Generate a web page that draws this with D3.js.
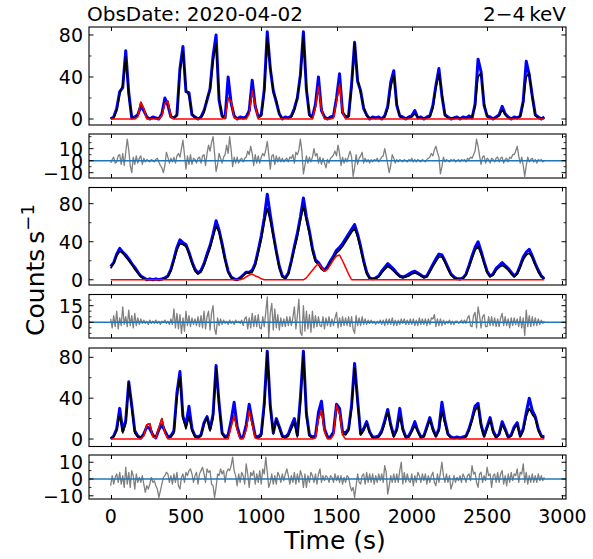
<!DOCTYPE html>
<html><head><meta charset="utf-8">
<script src="https://cdn.jsdelivr.net/npm/d3@7/dist/d3.min.js"></script>
<style>body{margin:0;background:#fff}svg{display:block}</style>
</head><body><svg id="c" width="593" height="559"></svg>
<script>
// ---------- data ----------
// light curves: bins of 20 s from 0 s to 2880 s; residuals: bins of 10 s from 0 s to 2880 s
const LC_STEP = 20;
const RES_STEP = 10;
const xTicks = [0, 500, 1000, 1500, 2000, 2500, 3000];

const p1Data = [
0,2,10,26,30,65,25,1,2,4,
12,8,2,0,2,1,0,5,20,13,
2,1,4,48,69,26,25,4,2,0,
2,8,18,29,60,80,18,3,1,40,
15,3,0,2,1,2,8,37,12,2,
4,28,83,48,27,16,5,0,2,1,
3,10,20,42,83,28,4,2,14,40,
8,2,0,2,3,20,43,6,2,3,
33,73,36,27,10,4,0,2,1,2,
0,3,12,35,46,13,3,2,0,2,
3,8,1,2,0,2,3,13,32,48,
22,4,2,0,1,2,0,2,1,3,
1,14,57,45,13,3,2,0,2,4,
12,5,2,0,2,1,3,17,55,42,
22,4,2,0,2];
const p1Model = [
1,1,8,24,32,60,22,2,1,3,
16,10,1,1,1,1,1,4,15,17,
3,1,3,45,64,28,22,5,1,1,
1,6,20,27,55,72,20,2,2,20,
17,2,1,1,1,1,6,27,14,1,
3,25,78,50,25,18,4,1,1,1,
2,8,22,40,80,30,3,1,12,31,
10,1,1,1,2,18,33,8,1,2,
30,72,38,25,12,3,1,1,1,1,
1,2,10,30,42,15,2,1,1,1,
2,5,2,1,1,1,2,10,30,43,
25,3,1,1,1,1,1,1,1,1,
2,12,40,44,15,2,1,1,1,3,
9,4,1,1,1,1,2,15,40,44,
20,3,1,1,1];
const p1Comp = [
0,0,0,0,0,0,0,0,0,2,
16,10,0,0,0,0,0,3,15,17,
2,0,0,0,0,0,0,0,0,0,
0,0,0,0,0,0,0,0,1,20,
17,1,0,0,0,0,5,27,13,0,
0,0,0,0,0,0,0,0,0,0,
0,0,0,0,0,0,0,0,11,31,
9,0,0,0,1,17,33,7,0,0,
0,0,0,0,0,0,0,0,0,0,
0,0,0,0,0,0,0,0,0,0,
0,0,0,0,0,0,0,0,0,0,
0,0,0,0,0,0,0,0,0,0,
0,0,0,0,0,0,0,0,0,0,
0,0,0,0,0,0,0,0,0,0,
0,0,0,0,0];
const p2Resid = [
-2,1,3,-2,-1,4,5,-3,6,-4,
7,18,9,-4,-10,3,-3,4,-2,2,
4,-3,2,-1,1,0,-1,1,0,-1,
1,2,-1,-4,-6,-10,-4,7,3,-2,
2,-1,3,-2,4,6,3,10,17,5,
-7,4,-3,5,-3,2,1,-2,2,3,
-2,4,5,-4,6,13,8,15,20,6,
-9,-3,6,2,-2,3,5,13,6,20,
9,-5,3,-2,3,-2,1,2,-1,2,
3,8,5,12,6,-4,5,-2,4,-2,
3,6,4,9,16,5,-7,4,5,-3,
4,-1,3,-1,2,-1,1,2,-1,3,
2,5,-2,7,5,9,18,8,-11,-4,
4,-2,3,-1,3,10,4,6,-2,3,
-3,2,-2,-6,1,-2,2,3,5,8,
4,13,6,-4,3,-2,2,-1,4,8,
3,-13,-6,5,-3,2,4,7,-2,2,
-1,1,-2,1,-1,1,0,2,-1,1,
3,4,10,4,-3,-10,-4,5,2,-2,
1,-1,1,0,-1,1,0,-1,1,0,
2,-1,1,-1,1,0,-1,1,0,-1,
1,2,3,6,4,9,12,7,3,-11,
-5,3,-1,1,0,-1,1,0,1,-1,
0,1,-1,1,0,1,-1,2,1,3,
2,5,8,18,12,4,-3,3,4,-2,
2,1,-2,2,1,-1,2,3,-1,2,
3,-2,1,2,-1,3,2,5,5,8,
12,4,-2,3,-4,-13,-4,3,-1,1,
2,-1,1,-2,1,0,1,-1,0];

const p3Data = [
14,18,27,33,29,26,22,17,13,8,
4,2,0,1,0,1,0,1,2,4,
11,22,34,42,39,37,29,19,11,7,
10,17,27,36,48,62,52,38,22,9,
3,1,0,2,5,8,8,10,17,31,
46,65,90,68,48,30,14,4,2,7,
20,35,49,66,86,66,51,33,21,18,
13,10,14,20,25,31,34,38,43,48,
53,58,48,35,20,8,2,1,2,4,
9,13,17,14,11,7,4,3,4,6,
8,9,7,5,3,4,10,16,22,27,
26,20,13,6,3,1,1,2,6,15,
25,34,40,30,19,9,4,6,12,15,
18,15,12,8,4,7,15,24,29,32,
25,17,10,4,1];
const p3Model = [
12,17,25,30,28,24,20,16,11,7,
3,1,0,0,0,0,0,0,1,3,
9,20,31,38,37,35,27,17,9,6,
8,15,24,33,45,56,50,35,20,8,
2,0,0,1,4,7,7,8,15,28,
42,60,75,62,45,28,12,3,1,6,
18,32,45,62,77,62,48,30,19,16,
11,9,12,18,23,28,31,35,40,45,
50,54,45,32,18,6,1,1,1,3,
7,11,14,12,9,6,3,2,3,4,
6,7,6,4,2,3,8,14,19,24,
24,18,11,5,2,1,0,1,5,13,
22,31,35,27,17,7,3,5,10,13,
15,13,10,6,3,6,13,21,26,28,
23,15,8,3,1];
const p3Comp = [
0,0,0,0,0,0,0,0,0,0,
0,0,0,0,0,0,0,0,0,0,
0,0,0,0,0,0,0,0,0,0,
0,0,0,0,0,0,0,0,0,0,
0,0,0,0,1,3,5,6,4,3,
1,0,0,0,0,0,0,0,0,0,
0,0,0,0,0,2,6,10,14,17,
13,9,11,16,21,25,26,20,13,6,
0,0,0,0,0,0,0,0,0,0,
0,0,0,0,0,0,0,0,0,0,
0,0,0,0,0,0,0,0,0,0,
0,0,0,0,0,0,0,0,0,0,
0,0,0,0,0,0,0,0,0,0,
0,0,0,0,0,0,0,0,0,0,
0,0,0,0,0];
const p4Resid = [
3,-5,6,-4,10,-6,4,-3,14,-2,
5,-4,11,-3,6,-5,8,-3,4,-2,
3,-1,2,-1,1,-2,2,-1,1,-1,
2,-1,1,-2,1,0,2,-1,1,-2,
3,-2,12,-5,8,-6,7,-10,4,-8,
10,-3,6,-4,4,-2,3,-3,5,-4,
6,-5,10,-6,5,10,-7,8,15,-6,
-11,4,-3,3,-2,2,-1,1,-2,2,
-1,1,-2,2,0,1,-1,2,-3,3,
5,-6,4,-5,8,-4,6,-4,7,-5,
-6,5,-4,9,23,-14,8,17,-7,12,
-5,7,-7,4,-4,3,-4,5,-3,5,
-3,4,14,-6,6,21,-9,-12,15,-8,
10,-6,7,-9,10,-5,6,-4,5,-3,
-4,5,-6,4,-3,5,-4,3,-3,4,
9,-5,4,-4,5,-3,4,-3,5,-4,
5,-6,-10,6,-3,4,-3,5,-2,3,
-2,2,-1,2,-1,1,-2,1,-1,2,
-2,2,-3,3,-2,3,-2,4,-3,2,
-3,2,-2,3,-1,3,-2,2,-2,3,
-2,3,-3,2,-3,4,-2,3,-2,3,
-3,3,-2,4,3,7,-4,3,-3,3,
-3,2,-2,1,-1,2,-2,1,-2,1,
1,-1,0,2,-1,2,-1,4,6,-3,
-4,6,9,-5,14,6,-5,5,7,-4,
-4,5,-3,5,-3,4,-4,3,-4,4,
8,-3,5,-3,3,-5,4,-3,4,-2,
3,-4,5,-5,4,-12,11,-4,6,-4,
5,-3,4,-3,3,-2,2,-1,1];

const p5Data = [
0,3,10,30,8,18,56,33,8,3,
1,5,12,10,4,1,9,14,8,2,
3,8,45,66,22,14,32,10,3,2,
4,16,22,10,24,72,35,6,2,4,
18,36,12,2,2,14,34,18,3,2,
5,35,86,33,6,20,12,3,2,5,
13,20,4,40,86,25,4,2,3,26,
37,10,2,2,7,34,30,7,6,10,
33,74,38,5,10,17,7,2,2,3,
8,18,29,14,3,10,30,10,2,3,
9,17,8,2,3,12,21,10,3,10,
36,18,5,2,1,2,1,2,3,10,
20,32,35,14,3,12,21,8,2,5,
17,10,2,4,12,16,3,10,26,40,
28,22,10,3,2];
const p5Model = [
1,2,8,24,6,15,55,30,6,2,
2,4,14,15,3,2,11,20,7,1,
2,6,40,62,20,10,22,8,2,1,
3,14,21,8,20,70,32,5,1,2,
13,23,10,1,1,10,28,15,2,1,
3,30,85,30,5,18,10,2,1,3,
10,16,2,35,84,22,3,1,2,20,
28,8,1,1,5,33,25,5,4,8,
30,70,35,4,8,15,6,1,1,2,
6,15,27,12,2,8,22,8,1,2,
7,13,7,1,2,10,19,8,2,8,
27,15,4,1,1,1,1,1,2,8,
18,28,32,12,2,10,19,6,1,4,
14,8,1,3,10,14,2,8,22,30,
24,20,8,2,1];
const p5Comp = [
0,0,0,0,0,0,0,0,0,0,
0,3,14,15,2,1,11,20,6,0,
0,0,0,0,0,0,0,0,0,0,
0,0,0,0,0,0,0,0,0,0,
12,23,9,0,0,9,28,14,1,0,
0,0,0,0,0,0,0,0,0,0,
0,0,0,0,0,0,0,0,1,20,
28,7,0,0,4,33,25,4,0,0,
0,0,0,0,0,0,0,0,0,0,
0,0,0,0,0,0,0,0,0,0,
0,0,0,0,0,0,0,0,0,0,
0,0,0,0,0,0,0,0,0,0,
0,0,0,0,0,0,0,0,0,0,
0,0,0,0,0,0,0,0,0,0,
0,0,0,0,0];
const p6Resid = [
-4,2,-3,1,3,-2,4,-3,2,-5,
7,-3,4,-5,5,2,-6,3,-2,1,
-2,2,-3,-8,-4,-6,-3,1,-2,-1,
-4,-6,-11,-7,-3,1,2,4,3,-2,
2,-3,3,-2,4,-4,-6,1,3,-2,
4,2,5,6,3,-2,2,4,-3,3,
5,7,3,-2,6,4,5,-3,-4,-11,
-5,3,2,6,3,5,-2,4,6,5,
8,13,5,2,-4,3,-2,4,2,-3,
9,3,-5,4,2,5,-3,3,-2,5,
-3,6,3,13,4,-5,-2,3,-3,2,
-3,4,2,-2,3,-1,3,6,2,-3,
2,-2,4,-3,3,-2,5,2,-5,3,
-5,2,-2,4,2,-2,3,-3,3,6,
-2,2,-1,2,1,-2,2,1,-2,3,
-1,2,-2,2,-3,1,-2,2,1,-4,
-7,-5,-11,-4,3,-2,-3,2,3,-3,
4,-2,3,-2,3,-3,2,-2,3,-1,
3,-2,8,4,-9,-4,2,-2,3,-2,
3,-2,5,10,-3,4,-2,3,-1,-2,
3,-4,2,-2,4,2,-2,3,-1,3,
-3,2,-2,2,4,-2,-4,3,-2,4,
10,2,-2,3,-2,2,-6,-3,2,-2,
1,-1,2,-2,3,1,-2,2,3,-1,
8,3,4,-2,-5,3,4,-2,2,-1,
7,2,3,-5,2,3,-2,4,-2,3,
5,-3,2,-4,3,-2,4,-1,3,2,
6,-2,4,3,9,-2,4,-3,2,-2,
3,-2,2,-2,3,-1,2,-1,1];

const lcTicks = [0, 40, 80];
const res1Ticks = [-10, 0, 10];
const res2Ticks = [0, 15];
const titleLeft = "ObsDate: 2020-04-02";
const titleRight = "2\u22124\u2009keV";
const xLabel = "Time (s)";

// ---------- layout ----------
const svg = d3.select("#c");
const FONT = "DejaVu Sans, Liberation Sans, sans-serif";
const X0 = 89, X1 = 566;
const x = d3.scaleLinear().domain([-144, 3024]).range([X0, X1]);

const panels = [
  {top: 27,  bottom: 125,  dom: [-5.7, 87.6], ticks: lcTicks,  minor: 20, data: p1Data, model: p1Model, comp: p1Comp},
  {top: 134, bottom: 178,  dom: [-14.4, 22.2], ticks: res1Ticks, minor: 5, resid: p2Resid},
  {top: 187.5, bottom: 285, dom: [-5.5, 97], ticks: lcTicks, minor: 20, data: p3Data, model: p3Model, comp: p3Comp},
  {top: 294.5, bottom: 338, dom: [-14.2, 25.1], ticks: res2Ticks, minor: 5, resid: p4Resid},
  {top: 348, bottom: 446.5, dom: [-7.3, 89.1], ticks: lcTicks, minor: 20, data: p5Data, model: p5Model, comp: p5Comp},
  {top: 455, bottom: 499, dom: [-11.9, 14.3], ticks: res1Ticks, minor: 5, resid: p6Resid}
];

const fmt = v => (v < 0 ? "\u2212" + Math.abs(v) : String(v));

panels.forEach((p, k) => {
  const y = d3.scaleLinear().domain(p.dom).range([p.bottom, p.top]);
  const g = svg.append("g");
  const clipId = "clip" + k;
  g.append("clipPath").attr("id", clipId).append("rect")
    .attr("x", X0).attr("y", p.top).attr("width", X1 - X0).attr("height", p.bottom - p.top);
  const plot = g.append("g").attr("clip-path", `url(#${clipId})`);
  const lcLine = d3.line().x((d, i) => x(i * LC_STEP)).y(d => y(d));
  const resLine = d3.line().x((d, i) => x(i * RES_STEP)).y(d => y(d));

  if (p.resid) {
    plot.append("path").datum(p.resid).attr("d", resLine)
      .attr("fill", "none").attr("stroke", "#808080").attr("stroke-width", 1.3).attr("stroke-linejoin", "round");
    plot.append("line").attr("x1", X0).attr("x2", X1).attr("y1", y(0)).attr("y2", y(0))
      .attr("stroke", "#1f77b4").attr("stroke-width", 1.5);
  } else {
    plot.append("path").datum(p.data).attr("d", lcLine)
      .attr("fill", "none").attr("stroke", "#0000ff").attr("stroke-width", 3).attr("stroke-linejoin", "round");
    plot.append("path").datum(p.model).attr("d", lcLine)
      .attr("fill", "none").attr("stroke", "#000000").attr("stroke-width", 1.6).attr("stroke-linejoin", "round");
    plot.append("path").datum(p.comp).attr("d", lcLine)
      .attr("fill", "none").attr("stroke", "#ff0000").attr("stroke-width", 1.5).attr("stroke-linejoin", "round");
  }

  // frame
  g.append("rect").attr("x", X0).attr("y", p.top).attr("width", X1 - X0).attr("height", p.bottom - p.top)
    .attr("fill", "none").attr("stroke", "#000").attr("stroke-width", 1.1);

  // x ticks (inward, bottom and top)
  xTicks.forEach(t => {
    const xx = Math.round(x(t)) + 0.5;
    g.append("line").attr("x1", xx).attr("x2", xx).attr("y1", p.bottom).attr("y2", p.bottom - 4)
      .attr("stroke", "#000").attr("stroke-width", 1);
    g.append("line").attr("x1", xx).attr("x2", xx).attr("y1", p.top).attr("y2", p.top + 4)
      .attr("stroke", "#000").attr("stroke-width", 1);
  });

  // y minor ticks
  const minors = d3.range(Math.ceil(p.dom[0] / p.minor) * p.minor, p.dom[1], p.minor)
    .filter(v => !p.ticks.includes(v));
  minors.forEach(v => {
    const yy = y(v);
    g.append("line").attr("x1", X0).attr("x2", X0 + 2.5).attr("y1", yy).attr("y2", yy).attr("stroke", "#000").attr("stroke-width", 0.8);
    g.append("line").attr("x1", X1).attr("x2", X1 - 2.5).attr("y1", yy).attr("y2", yy).attr("stroke", "#000").attr("stroke-width", 0.8);
  });
  // y major ticks and labels
  p.ticks.forEach(v => {
    const yy = y(v);
    g.append("line").attr("x1", X0).attr("x2", X0 + 4.5).attr("y1", yy).attr("y2", yy).attr("stroke", "#000").attr("stroke-width", 1);
    g.append("line").attr("x1", X1).attr("x2", X1 - 4.5).attr("y1", yy).attr("y2", yy).attr("stroke", "#000").attr("stroke-width", 1);
    g.append("text").attr("x", X0 - 6).attr("y", yy).attr("dy", "0.36em")
      .attr("text-anchor", "end").attr("font-family", FONT).attr("font-size", 19)
      .text(fmt(v));
  });

  if (k === panels.length - 1) {
    xTicks.forEach(t => {
      g.append("text").attr("x", x(t)).attr("y", p.bottom + 24)
        .attr("text-anchor", "middle").attr("font-family", FONT).attr("font-size", 19).text(t);
    });
  }
});

// titles and axis labels
svg.append("text").attr("x", 87).attr("y", 21).attr("font-family", FONT).attr("font-size", 20).text(titleLeft);
svg.append("text").attr("x", 566).attr("y", 21).attr("text-anchor", "end").attr("font-family", FONT).attr("font-size", 20).text(titleRight);
svg.append("text").attr("x", 335).attr("y", 549).attr("text-anchor", "middle").attr("font-family", FONT).attr("font-size", 25).text(xLabel);
const yl = svg.append("text").attr("transform", "translate(44,270) rotate(-90)")
  .attr("text-anchor", "middle").attr("font-family", FONT).attr("font-size", 25);
yl.append("tspan").text("Counts\u2009s");
yl.append("tspan").attr("dy", -10).attr("font-size", 18).text("\u22121");
</script>
</body></html>
